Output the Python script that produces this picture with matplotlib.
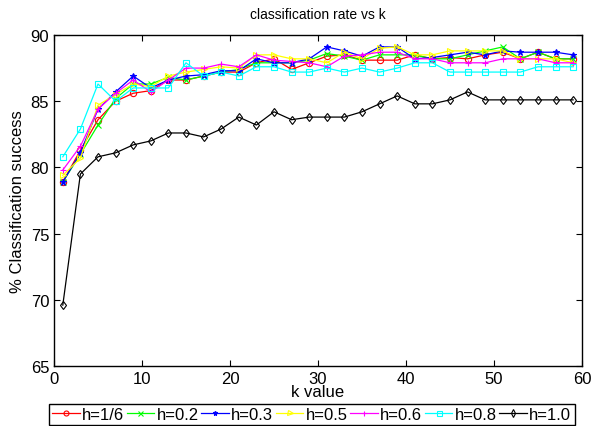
import numpy as np
import matplotlib.pyplot as plt

plt.rcParams['font.family'] = ['Liberation Sans', 'DejaVu Sans']

k = list(range(1, 60, 2))

h_16 = [78.9, 81.3, 83.6, 85.0, 85.6, 85.8, 86.6, 86.6, 86.9, 87.2, 87.2, 87.9, 88.2, 87.4, 87.9,
        88.4, 88.5, 88.1, 88.1, 88.1, 88.5, 88.2, 88.3, 88.2, 88.5, 88.7, 88.2, 88.7, 88.2, 88.2]
h_02 = [78.9, 81.0, 83.2, 85.2, 86.3, 86.3, 86.8, 86.6, 86.9, 87.2, 87.4, 87.9, 87.9, 87.9, 88.1,
        88.6, 88.4, 88.1, 88.5, 88.5, 88.5, 88.2, 88.2, 88.5, 88.8, 89.1, 88.2, 88.7, 88.2, 88.2]
h_03 = [78.9, 81.1, 84.4, 85.7, 86.9, 86.0, 86.6, 86.9, 87.0, 87.3, 87.3, 88.2, 87.9, 87.9, 88.2,
        89.1, 88.8, 88.4, 89.1, 89.1, 88.2, 88.3, 88.5, 88.7, 88.5, 88.8, 88.7, 88.7, 88.7, 88.5]
h_05 = [79.4, 80.7, 84.7, 85.5, 86.3, 86.1, 86.9, 87.2, 87.4, 87.6, 87.5, 88.5, 88.5, 88.2, 88.2,
        87.9, 88.7, 88.2, 89.0, 89.1, 88.5, 88.5, 88.8, 88.8, 88.8, 88.8, 88.2, 88.2, 88.2, 87.9]
h_06 = [79.8, 81.6, 84.4, 85.6, 86.6, 85.7, 86.6, 87.5, 87.5, 87.8, 87.6, 88.5, 88.1, 88.0, 87.9,
        87.6, 88.4, 88.5, 88.7, 88.7, 88.2, 88.2, 87.9, 87.9, 87.9, 88.2, 88.2, 88.2, 87.9, 87.9]
h_08 = [80.8, 82.9, 86.3, 85.0, 86.0, 86.0, 86.0, 87.9, 86.9, 87.2, 86.9, 87.6, 87.6, 87.2, 87.2,
        87.5, 87.2, 87.5, 87.2, 87.5, 87.9, 87.9, 87.2, 87.2, 87.2, 87.2, 87.2, 87.6, 87.6, 87.6]
h_10 = [69.6, 79.5, 80.8, 81.1, 81.7, 82.0, 82.6, 82.6, 82.3, 82.9, 83.8, 83.2, 84.2, 83.6, 83.8,
        83.8, 83.8, 84.2, 84.8, 85.4, 84.8, 84.8, 85.1, 85.7, 85.1, 85.1, 85.1, 85.1, 85.1, 85.1]

labels = ['h=1/6', 'h=0.2', 'h=0.3', 'h=0.5', 'h=0.6', 'h=0.8', 'h=1.0']
series = [h_16, h_02, h_03, h_05, h_06, h_08, h_10]
colors = ['#ff0000', '#00ff00', '#0000ff', '#ffff00', '#ff00ff', '#00ffff', '#000000']
markers = ['o', 'x', '*', '>', '+', 's', 'd']

fig = plt.figure(figsize=(6.02, 4.27), dpi=100)
ax = fig.add_axes([0.0897, 0.1405, 0.877, 0.7752])

for vals, lab, c, m in zip(series, labels, colors, markers):
    filled = m in ('x', '*', '+')
    ax.plot(k, vals, color=c, marker=m, markersize=4.5,
            markerfacecolor=c if filled else 'none', markeredgecolor=c,
            linewidth=0.9, markeredgewidth=0.8, label=lab)

ax.set_xlim(0, 60)
ax.set_ylim(65, 90)
ax.set_xticks(range(0, 61, 10))
ax.set_yticks(range(65, 91, 5))
ax.tick_params(direction='in', top=True, right=True, labelsize=12, length=4)
for s in ax.spines.values():
    s.set_linewidth(1.0)

ax.set_title('classification rate vs k', fontsize=10, pad=12)
ax.set_xlabel('k value', fontsize=12, labelpad=-1)
ax.set_ylabel('% Classification success', fontsize=12)

leg = fig.legend(loc='upper left', bbox_to_anchor=(0.081, 0.052), ncol=7, fontsize=12,
                 handlelength=1.65, handletextpad=0.15, columnspacing=0.15,
                 borderpad=0.2, borderaxespad=0, fancybox=False,
                 edgecolor='black', framealpha=1, markerscale=0.8)
leg.get_frame().set_linewidth(1.0)

fig.savefig('out.png', dpi=100)
